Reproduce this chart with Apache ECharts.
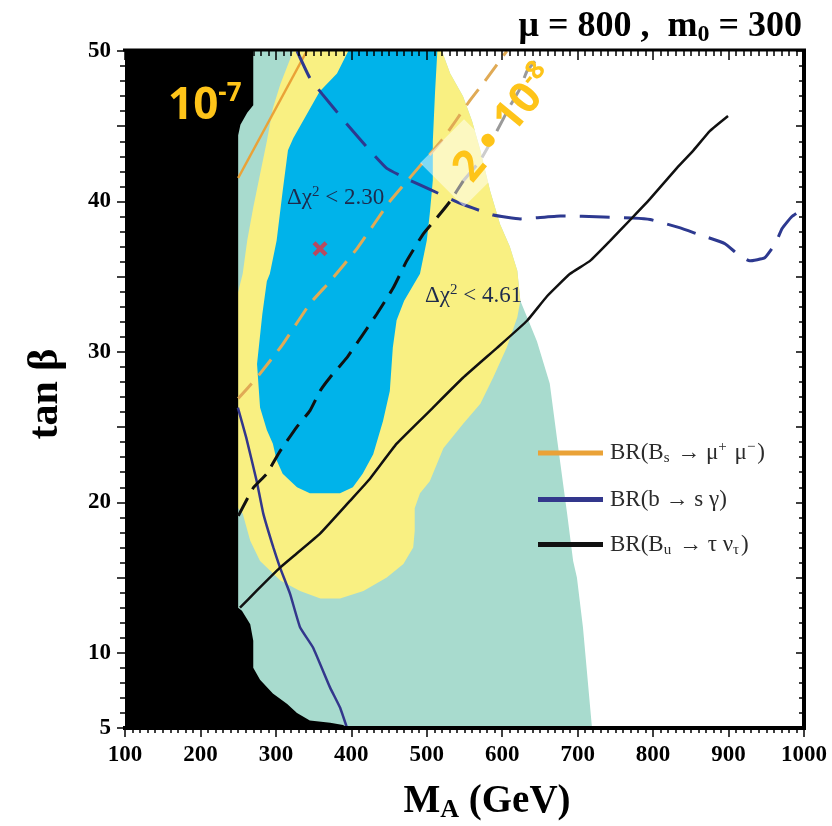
<!DOCTYPE html>
<html>
<head>
<meta charset="utf-8">
<title>tan beta vs M_A</title>
<script src="https://cdn.jsdelivr.net/npm/echarts@6/dist/echarts.min.js"></script>
<style>
    html, body { margin: 0; padding: 0; background: #fff; }
    #chart { width: 832px; height: 826px; }
</style>
</head>
<body>
<div id="chart"></div>
<script>
// labels shown on the tan(beta) axis
const yLabelValues = [5, 10, 20, 30, 40, 50];

// regions, points are [M_A, tan beta]
const excludedRegion = [[100, 50], [270, 50], [270, 46.4], [262, 45.9], [253, 45.1], [250, 44.4], [250, 13.0],
    [255, 12.8], [266, 11.9], [270, 10.8], [270, 9.0], [279, 8.2], [296, 7.3], [315, 6.6], [328, 6.0],
    [345, 5.5], [372, 5.35], [389, 5.2], [396, 5], [100, 5]];
const tealRegion = [[100, 50], [520, 50], [531, 48.5], [548, 47.0], [560, 45.35], [571, 43.4], [584, 40.7],
    [597, 38.5], [610, 37.0], [620, 35.4], [624, 33.4], [633, 32.3], [646, 30.7], [663, 27.9], [673, 24.1],
    [686, 19.25], [694, 16.1], [699, 15.0], [707, 11.7], [719, 5], [100, 5]];
const chi461Region = [[323, 50], [520, 50], [531, 48.5], [548, 47.0], [560, 45.35], [571, 43.4], [584, 40.7],
    [597, 38.5], [610, 37.0], [620, 35.4], [624, 33.4], [620, 32.3], [606, 30.3], [588, 28.3], [571, 26.55],
    [548, 25.2], [522, 23.6], [504, 21.4], [491, 20.6], [484, 19.6], [484, 18.1], [482, 17.0], [469, 15.9],
    [447, 15.0], [416, 14.1], [385, 13.6], [359, 13.6], [332, 14.1], [306, 14.8], [279, 16.1], [266, 17.45],
    [256, 19.25], [250, 19.6], [245, 19.6], [245, 34], [250, 34.0], [256, 35.2], [262, 37.4], [270, 39.6],
    [279, 41.8], [288, 44.0], [296, 46.2], [306, 47.8]];
const chi230Region = [[396, 50], [381, 48.5], [358, 47.3], [341, 45.8], [323, 44.2], [316, 43.4], [309, 40.7],
    [301, 37.4], [292, 35.2], [288, 34.7], [282, 32.5], [275, 29.2], [279, 26.3], [288, 24.8], [296, 23.9],
    [301, 22.8], [309, 21.9], [328, 21.0], [345, 20.6], [385, 20.6], [402, 21.0], [415, 21.9], [429, 23.2],
    [442, 25.4], [451, 27.4], [455, 30.3], [460, 32.1], [470, 33.4], [491, 35.2], [500, 37.4], [504, 39.2],
    [508, 41.4], [508, 44.0], [511, 47.3], [514, 50]];

// BR(Bs -> mu mu) contours: 1e-7 and 2e-8
const bsmumu1e7 = [[250, 41.56], [341, 50]];
const bsmumu2e8 = [[250, 26.9], [275, 28.3], [309, 30.5], [345, 33.2], [372, 34.7], [408, 36.9], [451, 40.0],
    [478, 41.6], [522, 44.2], [557, 46.7], [577, 48.0], [606, 50]];

// BR(b -> s gamma) contours
const bsgUpper = [[328, 50], [345, 48.2], [362, 47.1], [394, 45.15], [425, 43.36], [447, 42.2], [478, 41.4],
    [504, 40.8], [548, 39.8], [588, 39.1], [624, 38.84], [677, 39.04], [734, 38.97], [773, 38.9], [796, 38.8],
    [836, 38.24], [858, 37.85], [895, 37.2], [912, 36.5], [928, 36.05], [948, 36.25], [962, 37.2], [971, 38.2],
    [984, 39.0], [999, 39.5]];
const bsgLower = [[249.6, 26.3], [260.7, 24.3], [274.6, 21.4], [283.3, 19.25], [296.6, 17.0], [305.5, 15.66],
    [318.7, 13.93], [332, 11.7], [349.2, 10.35], [371.7, 7.7], [385, 6.36], [394.3, 5.0]];

// BR(Bu -> tau nu) contours
const butaunuSolid = [[252.4, 13.0], [274.6, 14.13], [305.5, 15.66], [327.6, 16.6], [358.5, 17.92], [398.2, 20.1],
    [424.7, 21.57], [460.1, 23.9], [504.3, 26.1], [548, 28.28], [593.1, 30.27], [632.9, 32.07], [659.4, 33.7],
    [689.9, 35.19], [716.4, 36.05], [742.9, 37.38], [772, 38.9], [795.9, 40.17], [831.7, 42.23], [852.9, 43.36],
    [875.4, 44.69], [899.3, 45.68]];
const butaunuDashed = [[250.2, 19.1], [270.1, 20.97], [287.8, 21.9], [305.5, 23.4], [327.6, 25.0], [345.2, 26.1],
    [358.5, 27.4], [371.7, 28.3], [393.9, 29.6], [415.9, 31.2], [433.6, 32.5], [455.6, 34.26], [473.4, 36.05],
    [495.4, 37.85], [513.2, 38.9], [530.8, 40.0], [548.4, 41.37]];
const butaunuFaded = [[548.4, 41.37], [570.6, 42.7], [593.1, 44.7], [610.4, 46.35], [623.6, 47.5],
    [632.9, 48.67], [646.1, 49.47]];

const bestFit = [[358.5, 36.85]];

const serif = "Liberation Serif";
const gold = "#fec419";

const regionSeries = (name, points, color) => ({
    name,
    type: "custom",
    silent: true,
    z: 1,
    data: points,
    encode: { x: 0, y: 1 },
    renderItem: (params, api) => {
        if (params.dataIndex !== 0) return null;
        return {
            type: "polygon",
            shape: { points: points.map(p => api.coord(p)) },
            style: { fill: color }
        };
    }
});

const curveSeries = (name, points, color, width, dash) => ({
    name,
    type: "line",
    data: points,
    showSymbol: false,
    smooth: 0.12,
    silent: true,
    z: 2,
    itemStyle: { color },
    lineStyle: { color, width, type: dash || "solid" }
});

const legendText = {
    "BR(Bs→μμ)": "{t|BR(B}{sub|s}{t| → μ}{sup|+}{t| μ}{sup|−}{t|)}",
    "BR(b→sγ)": "{t|BR(b → s γ)}",
    "BR(Bu→τν)": "{t|BR(B}{sub|u}{t| → τ ν}{sub|τ}{t|)}"
};

const tickStyle = { color: "#000", width: 1.5 };

const chart = echarts.init(document.getElementById("chart"));
chart.setOption({
    animation: false,
    backgroundColor: "#fff",
    grid: { left: 125, right: 28, top: 51, bottom: 98 },
    xAxis: [{
        type: "value", min: 100, max: 1000, interval: 100, z: 4,
        axisLine: { show: false },
        axisTick: { inside: false, length: 9, lineStyle: tickStyle },
        minorTick: { show: true, splitNumber: 10, length: 5, lineStyle: tickStyle },
        splitLine: { show: false },
        axisLabel: {
            margin: 16, color: "#000", fontFamily: serif, fontWeight: "bold", fontSize: 23,
            formatter: v => String(v)
        }
    }, {
        type: "value", min: 100, max: 1000, interval: 100, position: "top", z: 4,
        axisLine: { show: false },
        axisTick: { inside: true, length: 9, lineStyle: tickStyle },
        minorTick: { show: true, splitNumber: 10, length: 5, lineStyle: tickStyle },
        splitLine: { show: false },
        axisLabel: { show: false }
    }],
    yAxis: [{
        type: "value", min: 5, max: 50, interval: 5, z: 4,
        axisLine: { show: false },
        axisTick: { inside: false, length: 8, lineStyle: tickStyle },
        minorTick: { show: true, splitNumber: 5, length: 5, lineStyle: tickStyle },
        splitLine: { show: false },
        axisLabel: {
            margin: 14, color: "#000", fontFamily: serif, fontWeight: "bold", fontSize: 23,
            formatter: v => yLabelValues.includes(v) ? String(v) : ""
        }
    }, {
        type: "value", min: 5, max: 50, interval: 5, position: "right", z: 4,
        axisLine: { show: false },
        axisTick: { inside: true, length: 8, lineStyle: tickStyle },
        minorTick: { show: true, splitNumber: 5, length: 5, lineStyle: tickStyle },
        splitLine: { show: false },
        axisLabel: { show: false }
    }],
    legend: {
        data: ["BR(Bs→μμ)", "BR(b→sγ)", "BR(Bu→τν)"],
        orient: "vertical",
        left: 538,
        top: 440,
        padding: 0,
        itemGap: 22,
        itemWidth: 65,
        itemHeight: 5,
        icon: "rect",
        selectedMode: false,
        formatter: name => legendText[name],
        textStyle: {
            rich: {
                t: { fontFamily: serif, fontSize: 23, lineHeight: 26, color: "#2b2b2b", padding: [0, 0, 0, 2] },
                sub: { fontFamily: serif, fontSize: 15, lineHeight: 15, color: "#2b2b2b", verticalAlign: "bottom" },
                sup: { fontFamily: serif, fontSize: 15, lineHeight: 15, color: "#2b2b2b", verticalAlign: "top" }
            }
        }
    },
    series: [
        regionSeries("teal", tealRegion, "#a8dbce"),
        regionSeries("Δχ² < 4.61", chi461Region, "#f9f082"),
        regionSeries("Δχ² < 2.30", chi230Region, "#00b3ea"),
        regionSeries("excluded", excludedRegion, "#000000"),
        curveSeries("BR(Bs→μμ)", bsmumu1e7, "#eaa237", 2.5),
        curveSeries("Bs 2e-8", bsmumu2e8, "#e0aa55", 3, [20, 11]),
        curveSeries("BR(b→sγ)", bsgLower, "#33378c", 2.5),
        curveSeries("bsg upper", bsgUpper, "#2d3990", 3, [30, 14]),
        curveSeries("BR(Bu→τν)", butaunuSolid, "#111111", 2.5),
        curveSeries("Bu dashed", butaunuDashed, "#111111", 3, [20, 10]),
        curveSeries("Bu faded", butaunuFaded, "#9a9a9a", 3, [20, 10]),
        {
            name: "best fit",
            type: "scatter",
            z: 3,
            data: bestFit,
            symbol: "path://M2,0 L5,3 L8,0 L10,2 L7,5 L10,8 L8,10 L5,7 L2,10 L0,8 L3,5 L0,2 Z",
            symbolSize: 15,
            itemStyle: { color: "#e6303d" }
        }
    ],
    graphic: [
        // frame
        { type: "line", z: 10, shape: { x1: 123, y1: 50, x2: 806, y2: 50 }, style: { stroke: "#000", lineWidth: 3 } },
        { type: "line", z: 10, shape: { x1: 804, y1: 49, x2: 804, y2: 730 }, style: { stroke: "#000", lineWidth: 4 } },
        { type: "line", z: 10, shape: { x1: 123, y1: 728, x2: 806, y2: 728 }, style: { stroke: "#000", lineWidth: 4 } },
        // title
        {
            type: "text", z: 10, x: 802, y: 27,
            style: {
                text: "{b|μ = 800 ,  m}{s|0}{b| = 300}",
                textAlign: "right", textVerticalAlign: "middle",
                rich: {
                    b: { fontFamily: serif, fontWeight: "bold", fontSize: 36, lineHeight: 40, fill: "#000" },
                    s: { fontFamily: serif, fontWeight: "bold", fontSize: 24, lineHeight: 24, fill: "#000", verticalAlign: "bottom" }
                }
            }
        },
        // axis names
        {
            type: "text", z: 10, x: 487, y: 802,
            style: {
                text: "{b|M}{s|A}{b| (GeV)}",
                textAlign: "center", textVerticalAlign: "middle",
                rich: {
                    b: { fontFamily: serif, fontWeight: "bold", fontSize: 39, lineHeight: 42, fill: "#000" },
                    s: { fontFamily: serif, fontWeight: "bold", fontSize: 26, lineHeight: 26, fill: "#000", verticalAlign: "bottom" }
                }
            }
        },
        {
            type: "text", z: 10, x: 46, y: 394, rotation: Math.PI / 2,
            style: {
                text: "tan β", fontFamily: serif, fontWeight: "bold", fontSize: 42, fill: "#000",
                textAlign: "center", textVerticalAlign: "middle"
            }
        },
        // chi2 labels
        {
            type: "text", z: 10, x: 287, y: 198,
            style: {
                text: "{t|Δχ}{sup|2}{t| < 2.30}", textVerticalAlign: "middle",
                rich: {
                    t: { fontFamily: serif, fontSize: 23, lineHeight: 26, fill: "#1d2a4c" },
                    sup: { fontFamily: serif, fontSize: 15, lineHeight: 15, fill: "#1d2a4c", verticalAlign: "top" }
                }
            }
        },
        {
            type: "text", z: 10, x: 425, y: 296,
            style: {
                text: "{t|Δχ}{sup|2}{t| < 4.61}", textVerticalAlign: "middle",
                rich: {
                    t: { fontFamily: serif, fontSize: 23, lineHeight: 26, fill: "#1d2a4c" },
                    sup: { fontFamily: serif, fontSize: 15, lineHeight: 15, fill: "#1d2a4c", verticalAlign: "top" }
                }
            }
        },
        // BR(Bs -> mu mu) value labels
        {
            type: "text", z: 10, x: 168, y: 106,
            style: {
                text: "{a|10}{b|-7}", textVerticalAlign: "middle",
                rich: {
                    a: { fontFamily: "Noto Sans", fontWeight: "bold", fontSize: 44, lineHeight: 50, fill: gold },
                    b: { fontFamily: "Noto Sans", fontWeight: "bold", fontSize: 26, lineHeight: 30, fill: gold, verticalAlign: "top" }
                }
            }
        },
        {
            type: "rect", z: 9, x: 464, y: 163, rotation: Math.PI / 4,
            shape: { x: -31, y: -31, width: 62, height: 62 },
            style: { fill: "rgba(255,255,255,0.5)" }
        },
        {
            type: "text", z: 10, x: 506, y: 124, rotation: 0.88,
            style: {
                text: "{a|2 • 10}{b|-8}", textAlign: "center", textVerticalAlign: "middle",
                rich: {
                    a: { fontFamily: "Noto Sans", fontWeight: "bold", fontSize: 43, lineHeight: 48, fill: gold },
                    b: { fontFamily: "Noto Sans", fontWeight: "bold", fontSize: 26, lineHeight: 28, fill: gold, verticalAlign: "top" }
                }
            }
        }
    ]
});
</script>
</body>
</html>
